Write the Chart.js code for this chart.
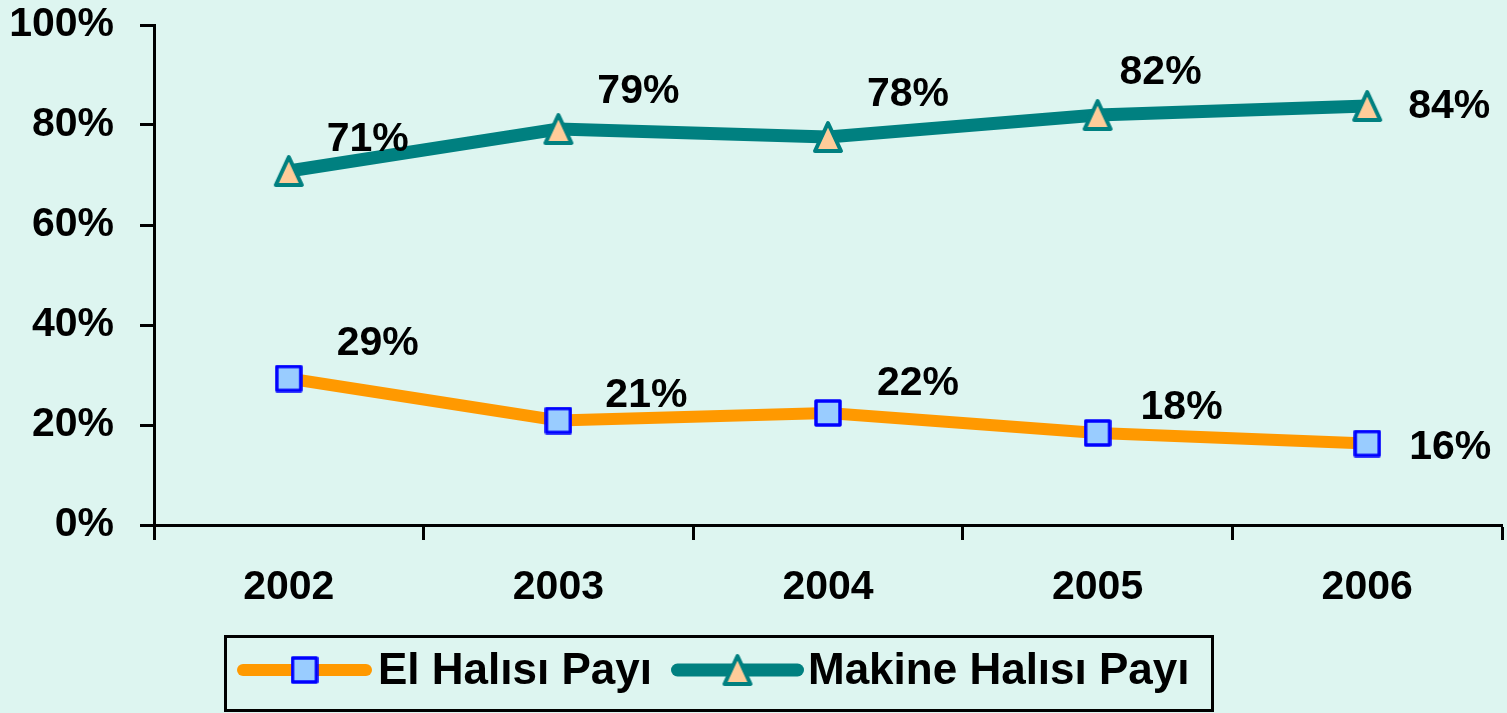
<!DOCTYPE html>
<html>
<head>
<meta charset="utf-8">
<script src="https://cdn.jsdelivr.net/npm/chart.js@4/dist/chart.umd.min.js"></script>
<style>
  html, body { margin: 0; padding: 0; background: #ddf5f0; }
  #wrap { width: 1507px; height: 713px; position: relative; }
</style>
</head>
<body>
<div id="wrap"><canvas id="chart"></canvas></div>
<script>
const years = ['2002', '2003', '2004', '2005', '2006'];
const elHalisi = [29.3, 20.9, 22.4, 18.4, 16.3];
const makineHalisi = [70.8, 79.2, 77.6, 82.0, 83.8];
const seriesNames = ['El Halısı Payı', 'Makine Halısı Payı'];
const yTicks = [0, 20, 40, 60, 80, 100];

// where each value label sits relative to its point
const labelOffsets = [
  [[89, -35], [88, -25], [90, -29], [84, -25], [83, 4]],
  [[79, -31], [80, -37], [80, -42], [63, -42], [82, 1]],
];

const FONT = '"Liberation Sans", Arial, sans-serif';

// excel-like markers: a tall triangle and a square
function triangleMarker() {
  const c = document.createElement('canvas');
  c.width = 32;
  c.height = 34;
  const ctx = c.getContext('2d');
  ctx.beginPath();
  ctx.moveTo(16, 3);
  ctx.lineTo(29, 31);
  ctx.lineTo(3, 31);
  ctx.closePath();
  ctx.fillStyle = '#ffcc99';
  ctx.fill();
  ctx.lineJoin = 'round';
  ctx.lineWidth = 4;
  ctx.strokeStyle = '#008080';
  ctx.stroke();
  return c;
}

function squareMarker() {
  const c = document.createElement('canvas');
  c.width = 28;
  c.height = 28;
  const ctx = c.getContext('2d');
  ctx.fillStyle = '#99ccff';
  ctx.fillRect(2, 2, 24, 24);
  ctx.lineJoin = 'round';
  ctx.lineWidth = 3.5;
  ctx.strokeStyle = '#0000ff';
  ctx.strokeRect(2, 2, 24, 24);
  return c;
}

const background = {
  id: 'background',
  beforeDraw(chart) {
    const ctx = chart.ctx;
    ctx.save();
    ctx.fillStyle = '#ddf5f0';
    ctx.fillRect(0, 0, chart.width, chart.height);
    ctx.restore();
  },
};

const valueLabels = {
  id: 'valueLabels',
  afterDatasetsDraw(chart) {
    const ctx = chart.ctx;
    ctx.save();
    ctx.font = 'bold 41px ' + FONT;
    ctx.fillStyle = '#000';
    ctx.textAlign = 'center';
    ctx.textBaseline = 'middle';
    chart.data.datasets.forEach((ds, i) => {
      chart.getDatasetMeta(i).data.forEach((pt, j) => {
        const [dx, dy] = labelOffsets[i][j];
        ctx.fillText(Math.round(ds.data[j]) + '%', pt.x + dx, pt.y + dy);
      });
    });
    ctx.restore();
  },
};

const boxLegend = {
  id: 'boxLegend',
  afterDraw(chart) {
    const ctx = chart.ctx;
    const items = [
      { lineFrom: 237, lineTo: 372, text: 378 },
      { lineFrom: 671, lineTo: 804, text: 808 },
    ];
    const cy = 670;
    ctx.save();
    ctx.strokeStyle = '#000';
    ctx.lineWidth = 3;
    ctx.strokeRect(225.5, 636.5, 987, 74);
    chart.data.datasets.forEach((ds, i) => {
      const it = items[i];
      ctx.strokeStyle = ds.borderColor;
      ctx.lineWidth = ds.borderWidth;
      ctx.lineCap = 'round';
      ctx.beginPath();
      ctx.moveTo(it.lineFrom + ds.borderWidth / 2, cy);
      ctx.lineTo(it.lineTo - ds.borderWidth / 2, cy);
      ctx.stroke();
      Chart.helpers.drawPoint(ctx, {
        pointStyle: ds.pointStyle,
        radius: ds.pointRadius,
        rotation: 0,
      }, (it.lineFrom + it.lineTo) / 2, cy);
      ctx.fillStyle = '#000';
      ctx.font = 'bold 44px ' + FONT;
      ctx.textAlign = 'left';
      ctx.textBaseline = 'middle';
      ctx.fillText(ds.label, it.text, cy + 2);
    });
    ctx.restore();
  },
};

new Chart(document.getElementById('chart'), {
  type: 'line',
  data: {
    labels: years,
    datasets: [
      {
        label: seriesNames[0],
        data: elHalisi,
        borderColor: '#ff9900',
        borderWidth: 12,
        pointStyle: squareMarker(),
        pointRadius: 14,
        tension: 0,
      },
      {
        label: seriesNames[1],
        data: makineHalisi,
        borderColor: '#008080',
        borderWidth: 13,
        pointStyle: triangleMarker(),
        pointRadius: 16,
        tension: 0,
      },
    ],
  },
  options: {
    responsive: true,
    maintainAspectRatio: false,
    animation: false,
    layout: {
      autoPadding: false,
      padding: { top: 25, right: 5, left: 0, bottom: 0 },
    },
    plugins: {
      legend: { display: false },
      tooltip: { enabled: false },
    },
    scales: {
      x: {
        offset: true,
        grid: {
          offset: true,
          drawOnChartArea: false,
          color: '#000',
          tickLength: 15,
          tickWidth: 3,
        },
        border: { color: '#000', width: 3 },
        ticks: {
          color: '#000',
          padding: 23,
          font: { family: FONT, size: 41, weight: 'bold' },
          maxRotation: 0,
        },
        afterFit: scale => {
          scale.height = 188;
          scale.paddingLeft = 0;
          scale.paddingRight = 0;
        },
      },
      y: {
        min: 0,
        max: 100,
        afterBuildTicks: scale => {
          scale.ticks = yTicks.map(v => ({ value: v }));
        },
        grid: {
          drawOnChartArea: false,
          color: '#000',
          tickLength: 14,
          tickWidth: 3,
        },
        border: { color: '#000', width: 3 },
        ticks: {
          color: '#000',
          padding: 26,
          font: { family: FONT, size: 41, weight: 'bold' },
          callback: v => v + '%',
        },
        afterFit: scale => {
          scale.width = 154;
          scale.paddingTop = 0;
          scale.paddingBottom = 0;
        },
      },
    },
  },
  plugins: [background, valueLabels, boxLegend],
});
</script>
</body>
</html>
